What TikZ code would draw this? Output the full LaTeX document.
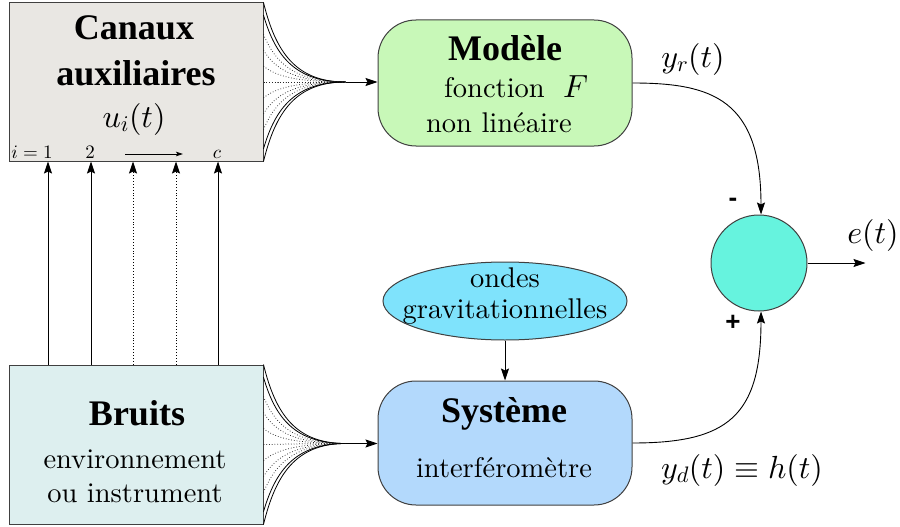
\documentclass[tikz,border=0pt]{standalone}
\usepackage{fontspec}
\DeclareFontShape{OML}{cmm}{m}{it}{<-6>cmmi5<6-8>cmmi7<8->cmmi10}{}
\DeclareFontShape{OT1}{cmr}{m}{n}{<-6>cmr5<6-8>cmr7<8->cmr10}{}
\DeclareFontShape{OMS}{cmsy}{m}{n}{<-6>cmsy5<6-8>cmsy7<8->cmsy10}{}
\DeclareFontShape{OMX}{cmex}{m}{n}{<->cmex10}{}
\newfontfamily\lmtext{lmroman10-regular}[Extension=.otf]
\newfontfamily\titlefont{Liberation Serif}
\newfontfamily\signfont{Liberation Sans}
\usetikzlibrary{arrows.meta,calc,shapes.geometric}
\definecolor{canauxfill}{HTML}{E9E7E3}
\definecolor{bruitsfill}{HTML}{DDEFEF}
\definecolor{modelefill}{HTML}{C8F8B8}
\definecolor{systemefill}{HTML}{B3D9FC}
\definecolor{ondesfill}{HTML}{7FE3FC}
\definecolor{sumfill}{HTML}{66F3DE}
\begin{document}
\begin{tikzpicture}[x=1pt,y=-1pt,
  arr/.style={-{Stealth[length=12pt,width=8pt,inset=2pt]}, line width=0.9pt},
  smallarr/.style={-{Stealth[length=7pt,width=4.5pt,inset=1.5pt]}, line width=0.8pt},
  box/.style={draw=black!75, line width=1pt, inner sep=0pt},
  rbox/.style={box, rounded corners=38pt, minimum width=254pt, minimum height=126pt},
  maintxt/.style={font=\lmtext\fontsize{28.5}{31}\selectfont, inner sep=0pt, anchor=base},
  mathtxt/.style={font=\fontsize{32}{36}\selectfont, inner sep=0pt, anchor=base},
  smalltxt/.style={font=\fontsize{19}{21}\selectfont, inner sep=0pt, anchor=base},
  ttl/.style={font=\titlefont\bfseries\fontsize{36}{40}\selectfont, inner sep=0pt, anchor=base},
  sign/.style={font=\signfont\bfseries\fontsize{26}{28}\selectfont, inner sep=0pt},
  fanline/.style={line width=0.8pt},
  fandot/.style={line width=0.75pt, black!85, dotted}
]
\useasboundingbox (0,0) rectangle (900,527);

% boxes
\node[box, fill=canauxfill, minimum width=254pt, minimum height=158pt] (canaux) at (136,82) {};
\node[box, fill=bruitsfill, minimum width=254pt, minimum height=159pt] (bruits) at (136,444.5) {};
\node[rbox, fill=modelefill] (modele) at (505,83) {};
\node[rbox, fill=systemefill, minimum height=124pt] (systeme) at (505,443) {};
\node[box, ellipse, fill=ondesfill, minimum width=244pt, minimum height=78pt] (ondes) at (505,301) {};
\node[box, circle, fill=sumfill, minimum size=96pt] (sum) at (759,263) {};

% texts in Canaux
\node[ttl] (tCanaux) at (134,40) {Canaux};
\node[ttl] (tAux) at (136,85) {auxiliaires};
\node[mathtxt] (tui) at (134,127) {$u_i(t)$};
\node[smalltxt] (ti1) at (32,158) {$i=1$};
\node[smalltxt] (ti2) at (90,158) {$2$};
\node[smalltxt] (tic) at (217,158) {$c$};
\coordinate (ia) at (125,154);
\coordinate (ib) at (183,154);
\draw[smallarr] (ia) -- (ib);

% texts in Bruits
\node[ttl] (tBruits) at (137,425) {Bruits};
\node[maintxt] (tEnv) at (135,468) {environnement};
\node[maintxt] (tInst) at (135,502) {ou instrument};

% texts in Modele
\node[ttl] (tModele) at (505,61) {Mod\`ele};
\node[maintxt, anchor=base west] (tFonction) at (444,97) {fonction};
\node[mathtxt, anchor=base west] (tF) at (563,97) {$F$};
\node[maintxt] (tNonlin) at (499,132) {non lin\'eaire};

% texts in Systeme
\node[ttl] (tSysteme) at (504,422) {Syst\`eme};
\node[maintxt] (tInterf) at (504,477) {interf\'erom\`etre};

% texts in ellipse
\node[maintxt] (tOndes) at (505,287) {ondes};
\node[maintxt] (tGrav) at (505,318) {gravitationnelles};

% output labels
\node[mathtxt] (tyr) at (693,67) {$y_r(t)$};
\node[mathtxt] (tet) at (873,243) {$e(t)$};
\node[mathtxt] (tyd) at (742,478) {$y_d(t)\equiv h(t)$};
\node[sign] (sMinus) at (733,202) {-};
\node[sign] (sPlus) at (733,323) {+};

% vertical arrows Bruits -> Canaux
\foreach \xx/\st in {48/solid, 91/solid, 133/dotted, 176/dotted, 218/solid}{
  \coordinate (vx) at (\xx,0);
  \draw[arr, \st] (bruits.north -| vx) -- (canaux.south -| vx);
}

% fans
\coordinate (fanA) at ($(canaux.east)+(82,0)$);
\coordinate (fanB) at ($(bruits.east)+(82,-1)$);
\foreach \f/\sty in {0/fanline, 0.08/fanline, 0.2/fandot, 0.3/fandot, 0.4/fandot, 0.5/fandot, 0.6/fandot, 0.7/fandot, 0.8/fandot, 0.92/fanline, 1/fanline}{
  \pgfmathsetmacro{\dyA}{0.62*(0.5-\f)*158}
  \pgfmathsetmacro{\dyB}{0.62*(0.5-\f)*159}
  \draw[\sty] ($(canaux.north east)!\f!(canaux.south east)$) .. controls +(12,\dyA) and +(-50,0) .. (fanA);
  \draw[\sty] ($(bruits.north east)!\f!(bruits.south east)$) .. controls +(12,\dyB) and +(-50,0) .. (fanB);
}
\draw[arr] (fanA) -- (fanA -| modele.west);
\draw[arr] (fanB) -- (fanB -| systeme.west);

% ondes -> systeme
\draw[arr] (ondes.south) -- (systeme.north);

% outputs to sum
\draw[arr] (modele.east) .. controls +(80,0) and +(0,-115) .. ($(sum.north)+(2,0)$);
\draw[arr] (systeme.east) .. controls +(95,0) and +(0,105) .. ($(sum.south)+(2,0)$);

% output
\coordinate (eout) at ($(sum.east)+(58,0)$);
\draw[arr] (sum.east) -- (eout);
\end{tikzpicture}
\end{document}
